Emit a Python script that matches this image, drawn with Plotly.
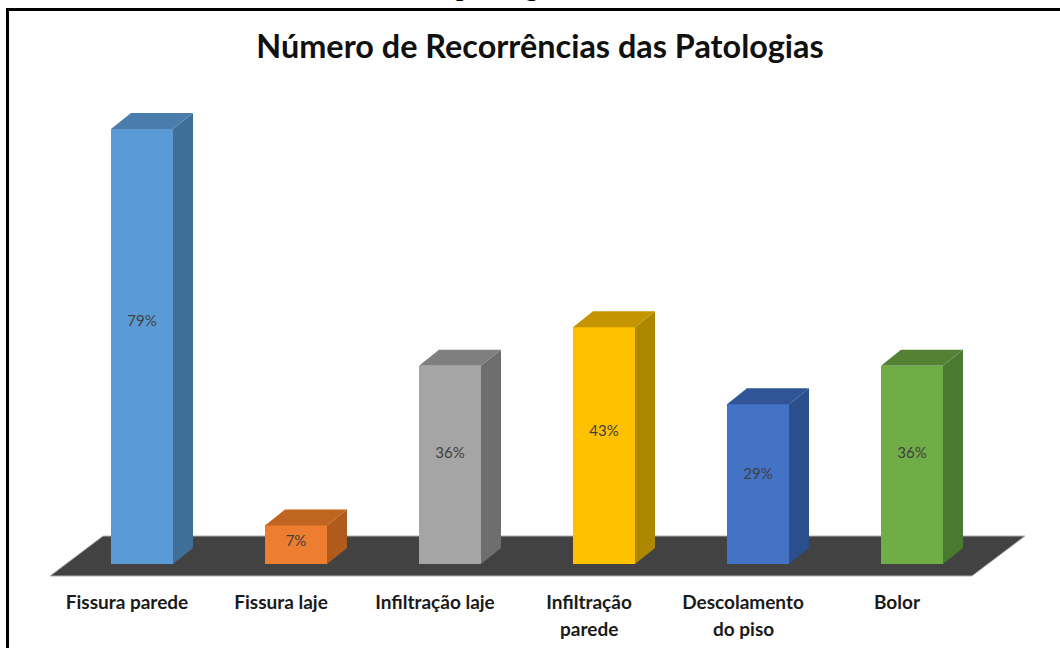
import plotly.graph_objects as go

# ---- data ----
title_text = "Número de Recorrências das Patologias"
categories_line1 = ["Fissura parede", "Fissura laje", "Infiltração laje", "Infiltração", "Descolamento", "Bolor"]
categories_line2 = ["", "", "", "parede", "do piso", ""]
values = [79, 7, 36, 43, 29, 36]
front_colors = ["#5B9BD5", "#ED7D31", "#A5A5A5", "#FFC000", "#4472C4", "#70AD47"]
top_colors = ["#4A7DAC", "#C0651F", "#7F7F7F", "#C49500", "#2F5597", "#548235"]
side_colors = ["#3F6E99", "#B05A1C", "#6E6E6E", "#AE8700", "#2B4F8C", "#4A7A2F"]

# ---- layout constants (pixels) ----
W, H = 1060, 648
PLOT_B = 585
X0_PX, STEP_PX = 142, 154
BASE_PX, PX_PER_PCT = 564, 5.506
BAR_W = 62 / STEP_PX
DX = 20 / STEP_PX
DY = 16 / PX_PER_PCT
LABEL_SHIFT = -15 / STEP_PX

x_range = [-X0_PX / STEP_PX, (W - X0_PX) / STEP_PX]
y_range = [(BASE_PX - PLOT_B) / PX_PER_PCT, BASE_PX / PX_PER_PCT]
idx = list(range(len(values)))

fig = go.Figure()

# front faces
fig.add_trace(go.Bar(
    x=idx, y=values, width=BAR_W,
    marker=dict(color=front_colors, line=dict(width=0)),
    showlegend=False, hoverinfo="skip",
))

# side and top faces, derived from each value
for i, v in enumerate(values):
    l, r = i - BAR_W / 2, i + BAR_W / 2
    fig.add_trace(go.Scatter(
        x=[r, r + DX, r + DX, r, r], y=[0, DY, v + DY, v, 0],
        mode="lines", fill="toself", fillcolor=side_colors[i],
        line=dict(width=0), showlegend=False, hoverinfo="skip",
    ))
    fig.add_trace(go.Scatter(
        x=[l, l + DX, r + DX, r, l], y=[v, v + DY, v + DY, v, v],
        mode="lines", fill="toself", fillcolor=top_colors[i],
        line=dict(width=0), showlegend=False, hoverinfo="skip",
    ))

# value labels
fig.add_trace(go.Scatter(
    x=idx, y=[v * 0.555 for v in values],
    mode="text", text=[f"{v}%" for v in values],
    textposition="middle center",
    textfont=dict(family="Lato", size=15, color="#404040"),
    showlegend=False, hoverinfo="skip",
))

# floor
fl, fr = (50 - X0_PX) / STEP_PX, (972 - X0_PX) / STEP_PX
slant = 53 / STEP_PX
fb, ft = (BASE_PX - 576) / PX_PER_PCT, (BASE_PX - 536) / PX_PER_PCT
shapes = [dict(
    type="path", layer="below", xref="x", yref="y",
    path=f"M {fl} {fb} L {fr} {fb} L {fr + slant} {ft} L {fl + slant} {ft} Z",
    fillcolor="#424242", line=dict(color="#B0B0B0", width=1),
)]

# frame: top and left rules only
yp = lambda px: 1 - px / PLOT_B
shapes += [
    dict(type="rect", xref="paper", yref="paper", x0=6 / W, x1=1, y0=yp(11), y1=yp(8),
         fillcolor="black", line=dict(width=0)),
    dict(type="rect", xref="paper", yref="paper", x0=6 / W, x1=9 / W, y0=yp(H), y1=yp(8),
         fillcolor="black", line=dict(width=0)),
]

annotations = [dict(
    x=i + LABEL_SHIFT, xref="x", y=yp(628), yref="paper", text=f"<b>{t}</b>", showarrow=False,
    xanchor="center", yanchor="middle",
    font=dict(family="Lato", size=19, color="#1a1a1a"),
) for i, t in enumerate(categories_line2) if t]

# clipped caption remnant above the frame
annotations.append(dict(
    x=455 / W, xref="paper", y=yp(3), yref="paper", text="<b>patologias</b>", showarrow=False,
    xanchor="left", yanchor="bottom", borderpad=0,
    font=dict(family="Liberation Serif", size=26, color="black"),
))

fig.update_layout(
    width=W, height=H, margin=dict(l=0, r=0, t=0, b=H - PLOT_B, pad=0),
    paper_bgcolor="white", plot_bgcolor="rgba(0,0,0,0)",
    title=dict(text=f"<b>{title_text}</b>", x=540 / W, xanchor="center", xref="paper",
               y=1 - 47 / H, yanchor="middle", yref="container",
               font=dict(family="Lato", size=32.4, color="#111111")),
    xaxis=dict(range=x_range, showgrid=False, zeroline=False, showline=False,
               ticks="", tickvals=[i + LABEL_SHIFT for i in idx],
               ticktext=[f"<b>{t}</b>" for t in categories_line1],
               tickangle=0, ticklabelstandoff=4,
               tickfont=dict(family="Lato", size=19, color="#1a1a1a")),
    yaxis=dict(range=y_range, visible=False),
    shapes=shapes, annotations=annotations, bargap=0,
)

fig.write_html("out.html", config=dict(displayModeBar=False),
               post_script="document.body.style.margin='0';")
